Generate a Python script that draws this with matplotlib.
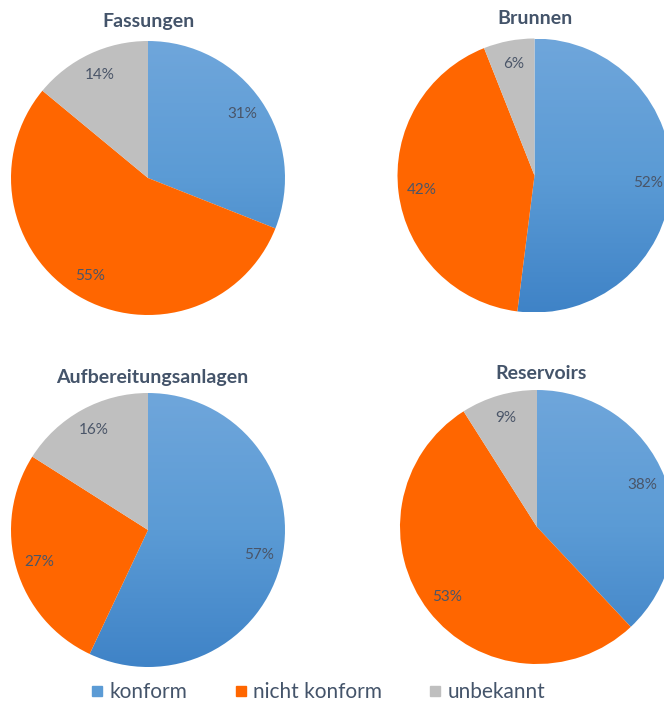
import numpy as np
import matplotlib
matplotlib.use("Agg")
import matplotlib.pyplot as plt
from matplotlib.colors import LinearSegmentedColormap
from matplotlib.lines import Line2D

# ---- data ----
titles = ["Fassungen", "Brunnen", "Aufbereitungsanlagen", "Reservoirs"]
categories = ["konform", "nicht konform", "unbekannt"]
fassungen = [31, 55, 14]
brunnen = [52, 42, 6]
aufbereitung = [57, 27, 16]
reservoirs = [38, 53, 9]
series = [fassungen, brunnen, aufbereitung, reservoirs]

colors = ["#5B9BD5", "#FF6600", "#BFBFBF"]
text_col = "#44546A"
label_col = "#4A5568"

W, H = 664, 701
fig = plt.figure(figsize=(W / 100, H / 100), dpi=100)
fig.patch.set_facecolor("white")

# pixel centers (x, y from top), radius
centers = [(148, 178), (534.5, 175.5), (148, 530), (537, 527)]
R = 137
title_pos = [(148, 22), (535, 19), (152, 377), (541, 374)]

grad = LinearSegmentedColormap.from_list("g", ["#6FA6DB", "#5B9BD5", "#3F83C7"])
fontfam = ["Lato", "DejaVu Sans"]

for (cx, cy), vals, title, (tx, ty) in zip(centers, series, titles, title_pos):
    ax = fig.add_axes([(cx - R) / W, 1 - (cy + R) / H, 2 * R / W, 2 * R / H])
    wedges, texts, autotexts = ax.pie(
        vals, colors=colors, startangle=90, counterclock=False,
        autopct=lambda p: f"{p:.0f}%", pctdistance=0.83, radius=1,
        wedgeprops=dict(linewidth=0),
        textprops=dict(color=label_col, fontsize=11, family=fontfam))
    ax.set_xlim(-1, 1)
    ax.set_ylim(-1, 1)
    ax.set_aspect("equal")
    ax.axis("off")
    # gradient fill for blue wedge
    wb = wedges[0]
    wb.set_facecolor("none")
    img = ax.imshow(np.linspace(0, 1, 256).reshape(-1, 1), cmap=grad, aspect="auto",
                    extent=[-1, 1, -1, 1], origin="upper", zorder=wb.get_zorder() - 0.1)
    img.set_clip_path(wb)
    for t in autotexts:
        t.set_zorder(5)
    fig.text(tx / W, 1 - ty / H, title, ha="center", va="center",
             fontsize=14, fontweight="bold", color=text_col, family=fontfam)

handles = [Line2D([0], [0], marker="s", linestyle="none", markersize=7.5,
                  markerfacecolor=c, markeredgecolor=c) for c in colors]
fig.legend(handles, categories, loc="center", bbox_to_anchor=(315 / W, 1 - 692 / H),
           ncol=3, frameon=False, handletextpad=0.0, handlelength=1.2,
           columnspacing=1.95,
           prop=dict(family=fontfam, size=15), labelcolor=text_col)

fig.savefig("out.png", dpi=100)
